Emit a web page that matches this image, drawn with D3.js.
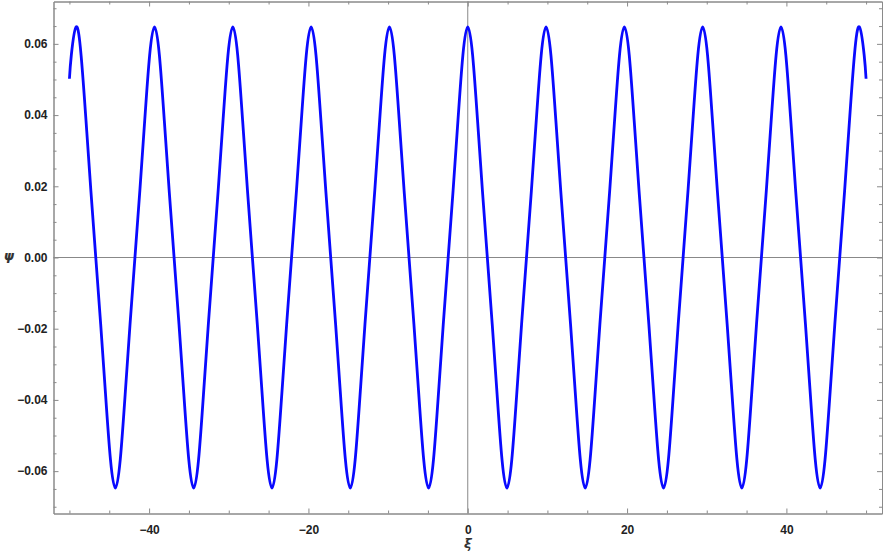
<!DOCTYPE html>
<html>
<head>
<meta charset="utf-8">
<script src="https://cdn.jsdelivr.net/npm/d3@7"></script>
<style>
  html, body { margin: 0; padding: 0; background: #fff; }
  svg { display: block; }
</style>
</head>
<body>
<svg id="chart" width="886" height="553"></svg>
<script>
// ---- data ----
const xi = [
  -50, -49.764, -49.150, -48.536, -47.921, -47.307, -46.693, -46.078, -45.464, -44.849, -44.235,
  -43.621, -43.006, -42.392, -41.778, -41.163, -40.549, -39.934, -39.320,
  -38.706, -38.091, -37.477, -36.863, -36.248, -35.634, -35.019, -34.405,
  -33.791, -33.176, -32.562, -31.948, -31.333, -30.719, -30.104, -29.490,
  -28.876, -28.261, -27.647, -27.033, -26.418, -25.804, -25.189, -24.575,
  -23.961, -23.346, -22.732, -22.118, -21.503, -20.889, -20.274, -19.660,
  -19.046, -18.431, -17.817, -17.203, -16.588, -15.974, -15.359, -14.745,
  -14.131, -13.516, -12.902, -12.288, -11.673, -11.059, -10.444, -9.830,
  -9.216, -8.601, -7.987, -7.373, -6.758, -6.144, -5.529, -4.915,
  -4.301, -3.686, -3.072, -2.458, -1.843, -1.229, -0.614, 0,
  0.614, 1.229, 1.843, 2.458, 3.072, 3.686, 4.301, 4.915,
  5.529, 6.144, 6.758, 7.373, 7.987, 8.601, 9.216, 9.830,
  10.444, 11.059, 11.673, 12.288, 12.902, 13.516, 14.131, 14.745,
  15.359, 15.974, 16.588, 17.203, 17.817, 18.431, 19.046, 19.660,
  20.274, 20.889, 21.503, 22.118, 22.732, 23.346, 23.961, 24.575,
  25.189, 25.804, 26.418, 27.033, 27.647, 28.261, 28.876, 29.490,
  30.104, 30.719, 31.333, 31.948, 32.562, 33.176, 33.791, 34.405,
  35.019, 35.634, 36.248, 36.863, 37.477, 38.091, 38.706, 39.320,
  39.934, 40.549, 41.163, 41.778, 42.392, 43.006, 43.621, 44.235,
  44.849, 45.464, 46.078, 46.693, 47.307, 47.921, 48.536, 49.150, 49.764, 50
];
const psi = [
  0.0502, 0.0568,
  0.0648, 0.0568, 0.0385, 0.0187, 0, -0.0187, -0.0385, -0.0568, -0.0648, -0.0568, -0.0385, -0.0187, 0, 0.0187, 0.0385, 0.0568,
  0.0648, 0.0568, 0.0385, 0.0187, 0, -0.0187, -0.0385, -0.0568, -0.0648, -0.0568, -0.0385, -0.0187, 0, 0.0187, 0.0385, 0.0568,
  0.0648, 0.0568, 0.0385, 0.0187, 0, -0.0187, -0.0385, -0.0568, -0.0648, -0.0568, -0.0385, -0.0187, 0, 0.0187, 0.0385, 0.0568,
  0.0648, 0.0568, 0.0385, 0.0187, 0, -0.0187, -0.0385, -0.0568, -0.0648, -0.0568, -0.0385, -0.0187, 0, 0.0187, 0.0385, 0.0568,
  0.0648, 0.0568, 0.0385, 0.0187, 0, -0.0187, -0.0385, -0.0568, -0.0648, -0.0568, -0.0385, -0.0187, 0, 0.0187, 0.0385, 0.0568,
  0.0648, 0.0568, 0.0385, 0.0187, 0, -0.0187, -0.0385, -0.0568, -0.0648, -0.0568, -0.0385, -0.0187, 0, 0.0187, 0.0385, 0.0568,
  0.0648, 0.0568, 0.0385, 0.0187, 0, -0.0187, -0.0385, -0.0568, -0.0648, -0.0568, -0.0385, -0.0187, 0, 0.0187, 0.0385, 0.0568,
  0.0648, 0.0568, 0.0385, 0.0187, 0, -0.0187, -0.0385, -0.0568, -0.0648, -0.0568, -0.0385, -0.0187, 0, 0.0187, 0.0385, 0.0568,
  0.0648, 0.0568, 0.0385, 0.0187, 0, -0.0187, -0.0385, -0.0568, -0.0648, -0.0568, -0.0385, -0.0187, 0, 0.0187, 0.0385, 0.0568,
  0.0648, 0.0568, 0.0385, 0.0187, 0, -0.0187, -0.0385, -0.0568, -0.0648, -0.0568, -0.0385, -0.0187, 0, 0.0187, 0.0385, 0.0568,
  0.0648, 0.0568, 0.0502
];
const xMajorTicks = [-40, -20, 0, 20, 40];
const xMinorTicks = [-50, -45, -35, -30, -25, -15, -10, -5, 5, 10, 15, 25, 30, 35, 45, 50];
const yMajorTicks = [-0.06, -0.04, -0.02, 0, 0.02, 0.04, 0.06];
const yMinorTicks = [-0.07, -0.065, -0.055, -0.05, -0.045, -0.035, -0.03, -0.025, -0.015, -0.01, -0.005,
                     0.005, 0.01, 0.015, 0.025, 0.03, 0.035, 0.045, 0.05, 0.055, 0.065, 0.07];
const xLabel = "ξ";
const yLabel = "ψ";

(function () {
  // ---- layout ----
  const pLeft = 53.5, pRight = 882, pTop = 1.5, pBottom = 513.5;
  const x = d3.scaleLinear().domain([-52, 52]).range([pLeft, pRight]);
  const y = d3.scaleLinear().domain([-0.0719, 0.0719]).range([pBottom, pTop]);

  const svg = d3.select("#chart");
  const frameColor = "#8a8a8a";
  const fmtX = d => (d < 0 ? "\u2212" + Math.abs(d) : String(d));
  const fmtY = d => (d < 0 ? "\u2212" : "") + Math.abs(d).toFixed(2);
  const tickFont = "bold 12px 'Liberation Sans', Arial, sans-serif";

  // origin axes
  svg.append("line").attr("x1", x(0)).attr("x2", x(0)).attr("y1", pTop).attr("y2", pBottom)
    .attr("stroke", "#888").attr("stroke-width", 1);
  svg.append("line").attr("x1", pLeft).attr("x2", pRight).attr("y1", y(0)).attr("y2", y(0))
    .attr("stroke", "#888").attr("stroke-width", 1);

  // curve
  const pts = xi.map((v, i) => [v, psi[i]]);
  svg.append("path").datum(pts)
    .attr("fill", "none").attr("stroke", "#0a0aff").attr("stroke-width", 2.8)
    .attr("stroke-linejoin", "round")
    .attr("d", d3.line().x(d => x(d[0])).y(d => y(d[1])).curve(d3.curveNatural));

  function styleAxis(g) {
    g.select(".domain").attr("stroke", frameColor).attr("stroke-width", 1);
    g.selectAll(".tick line").attr("stroke", frameColor).attr("stroke-width", 1);
    g.selectAll("text").style("font", tickFont).attr("fill", "#222");
  }
  // bottom
  svg.append("g").attr("transform", `translate(0,${pBottom})`)
    .call(d3.axisBottom(x).tickValues(xMinorTicks).tickSize(-3).tickSizeOuter(0).tickFormat(""))
    .call(styleAxis);
  svg.append("g").attr("transform", `translate(0,${pBottom})`)
    .call(d3.axisBottom(x).tickValues(xMajorTicks).tickSize(-5).tickSizeOuter(0).tickPadding(12).tickFormat(fmtX))
    .call(styleAxis);
  // top
  svg.append("g").attr("transform", `translate(0,${pTop})`)
    .call(d3.axisTop(x).tickValues(xMinorTicks).tickSize(-3).tickSizeOuter(0).tickFormat(""))
    .call(styleAxis);
  svg.append("g").attr("transform", `translate(0,${pTop})`)
    .call(d3.axisTop(x).tickValues(xMajorTicks).tickSize(-5).tickSizeOuter(0).tickFormat(""))
    .call(styleAxis);
  // left
  svg.append("g").attr("transform", `translate(${pLeft},0)`)
    .call(d3.axisLeft(y).tickValues(yMinorTicks).tickSize(-3).tickSizeOuter(0).tickFormat(""))
    .call(styleAxis);
  svg.append("g").attr("transform", `translate(${pLeft},0)`)
    .call(d3.axisLeft(y).tickValues(yMajorTicks).tickSize(-5).tickSizeOuter(0).tickPadding(6).tickFormat(fmtY))
    .call(styleAxis);
  // right
  svg.append("g").attr("transform", `translate(${pRight},0)`)
    .call(d3.axisRight(y).tickValues(yMinorTicks).tickSize(-3).tickSizeOuter(0).tickFormat(""))
    .call(styleAxis);
  svg.append("g").attr("transform", `translate(${pRight},0)`)
    .call(d3.axisRight(y).tickValues(yMajorTicks).tickSize(-5).tickSizeOuter(0).tickFormat(""))
    .call(styleAxis);

  // axis labels
  svg.append("text").attr("x", x(0)).attr("y", 548).attr("text-anchor", "middle")
    .style("font", "italic bold 13px 'DejaVu Sans', sans-serif").attr("fill", "#333").text(xLabel);
  svg.append("text").attr("x", 9).attr("y", 260).attr("text-anchor", "middle")
    .style("font", "italic bold 13px 'DejaVu Sans', sans-serif").attr("fill", "#333").text(yLabel);
})();
</script>
</body>
</html>
